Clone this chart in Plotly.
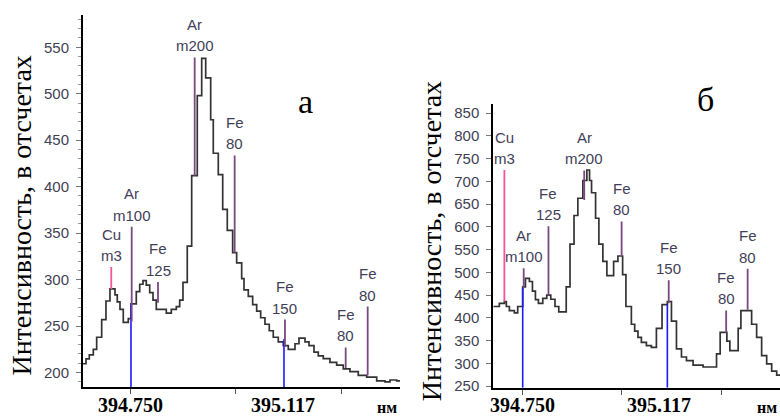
import plotly.graph_objects as go

# ---------------- data: panel "а" ----------------
left_wl = [394.6349, 394.6421, 394.6500, 394.6596, 394.6677, 394.6797, 394.6900, 394.6996,
           394.7116, 394.7171, 394.7236, 394.7315, 394.7435, 394.7500, 394.7627, 394.7709,
           394.7788, 394.7867, 394.7949, 394.8028, 394.8107, 394.8347, 394.8467, 394.8587,
           394.8668, 394.8747, 394.8850, 394.8956, 394.9090, 394.9196, 394.9292, 394.9412,
           394.9474, 394.9594, 394.9700, 394.9810, 394.9939, 395.0035, 395.0155, 395.0211,
           395.0314, 395.0419, 395.0515, 395.0611, 395.0714, 395.0817, 395.0913, 395.1033,
           395.1153, 395.1273, 395.1434, 395.1530, 395.1674, 395.1770, 395.1890, 395.1993,
           395.2113, 395.2273, 395.2434, 395.2592, 395.2753, 395.2952, 395.3154, 395.3394,
           395.3593, 395.3713, 395.3873, 395.3953]
left_counts = [209.5, 214.8, 219, 225, 238, 257, 277, 290,
               283.5, 276, 268, 254, 258, 274, 287, 295,
               299, 294, 286, 278, 268, 264, 268, 271,
               278, 297, 336, 412, 498, 538, 517, 472,
               436, 413, 375.5, 353, 329, 318, 301, 289,
               282, 273, 266, 259, 252, 245, 238, 233,
               229, 225, 231, 237, 233, 229, 222, 218,
               215, 211, 208, 204, 201, 197, 195, 191,
               190, 192, 191, 191]

# ---------------- data: panel "б" ----------------
right_wl = [394.6754, 394.6907, 394.7035, 394.7085, 394.7162, 394.7289, 394.7373, 394.7500,
            394.7569, 394.7670, 394.7747, 394.7823, 394.7899, 394.8009, 394.8110, 394.8212,
            394.8319, 394.8415, 394.8604, 394.8700, 394.8802, 394.8899, 394.9026, 394.9128,
            394.9196, 394.9247, 394.9349, 394.9433, 394.9534, 394.9636, 394.9807, 394.9916,
            395.0035, 395.0119, 395.0257, 395.0341, 395.0424, 395.0511, 395.0638, 395.0765,
            395.0892, 395.1035, 395.1170, 395.1274, 395.1401, 395.1528, 395.1655, 395.1823,
            395.2077, 395.2418, 395.2510, 395.2680, 395.2756, 395.2967, 395.3036, 395.3308,
            395.3435, 395.3562, 395.3690, 395.3817, 395.3944, 395.4028]
right_counts = [425, 432, 436, 425, 416, 411, 425, 468,
                487, 480, 459, 440, 432, 443, 450, 441,
                425, 413, 468, 562, 625, 663, 702, 725,
                702, 675, 619, 562, 524, 493, 524, 536,
                495, 425, 386, 371, 357, 346, 339, 335,
                377, 429, 436, 393, 332, 314, 306, 296,
                292, 321, 368, 349, 328, 377, 416, 386,
                357, 317, 299, 283, 274, 274]

# ---------------- line identifications ----------------
mk_elem = ["Cu", "Ar", "Fe", "Ar", "Fe", "Fe", "Fe", "Fe"]
mk_line2 = ["m3", "m100", "125", "m200", "80", "150", "80", "80"]
mk_kind = ["cu", "el", "el", "el", "el", "el", "el", "el"]

left_mk_wl = [394.7027, 394.7517, 394.8148, 394.9028, 394.9987, 395.1194, 395.2650, 395.3178]
left_mk_lo = [290, 255, 275, 412, 329, 227.5, 205, 197]
left_mk_hi = [313.5, 357, 297.5, 539, 433.6, 257, 227, 271]

right_mk_wl = [394.7035, 394.7525, 394.8154, 394.9061, 395.0010, 395.1205, 395.2662, 395.3207]
right_mk_lo = [436, 465, 449, 659, 537, 432, 367.6, 418]
right_mk_hi = [725, 509, 601.6, 724, 612, 482.7, 416.4, 508]

ref_wl = [394.750, 395.117]
ref_labels = ["394.750", "395.117"]
left_ref_top = [274, 236]
right_ref_top = [466, 429]

x_minor_ticks = [394.75, 395.0, 395.255]
unit_label = "нм"
y_title = "Интенсивность, в отсчетах"
panel_names = ["а", "б"]

# ---------------- styles ----------------
CURVE = "#333333"
PURPLE = "#7a4880"
PINK = "#f2559e"
BLUE = "#1a1aff"
LABEL = "#433e58"
TICKTXT = "#3f3f55"
SANS = "Arial, Liberation Sans, sans-serif"
SERIF = "Times New Roman, Liberation Serif, serif"

fig = go.Figure()

panels = [
    dict(xa="x", ya="y", wl=left_wl, cnt=left_counts, mwl=left_mk_wl, mlo=left_mk_lo,
         mhi=left_mk_hi, rtop=left_ref_top, ybot=184),
    dict(xa="x2", ya="y2", wl=right_wl, cnt=right_counts, mwl=right_mk_wl, mlo=right_mk_lo,
         mhi=right_mk_hi, rtop=right_ref_top, ybot=246.5),
]

annotations = []
for p in panels:
    # spectrum (step line)
    fig.add_trace(go.Scatter(x=p["wl"], y=p["cnt"], mode="lines", line_shape="hv",
                             line=dict(color=CURVE, width=1.7), xaxis=p["xa"], yaxis=p["ya"],
                             showlegend=False, hoverinfo="skip"))
    # blue reference lines
    for w, top in zip(ref_wl, p["rtop"]):
        fig.add_trace(go.Scatter(x=[w, w], y=[p["ybot"], top], mode="lines",
                                 line=dict(color=BLUE, width=1.6), xaxis=p["xa"], yaxis=p["ya"],
                                 showlegend=False, hoverinfo="skip"))
    # identification markers
    for w, lo, hi, kind, e, l2 in zip(p["mwl"], p["mlo"], p["mhi"], mk_kind, mk_elem, mk_line2):
        col = PINK if kind == "cu" else PURPLE
        fig.add_trace(go.Scatter(x=[w, w], y=[lo, hi], mode="lines",
                                 line=dict(color=col, width=1.8), xaxis=p["xa"], yaxis=p["ya"],
                                 showlegend=False, hoverinfo="skip"))
        for txt, sh in ((l2, 11.5), (e, 33)):
            annotations.append(dict(x=w, y=hi, xref=p["xa"], yref=p["ya"], text=txt,
                                    showarrow=False, yshift=sh, yanchor="middle",
                                    xanchor="center", font=dict(family=SANS, size=15, color=LABEL)))
    # x labels at reference lines
    for w, lab, xs in zip(ref_wl, ref_labels, (0, -1 if p["xa"] == "x" else -8)):
        annotations.append(dict(x=w, y=0.019, xref=p["xa"], yref="paper", text="<b>" + lab + "</b>",
                                showarrow=False, xanchor="center", yanchor="middle", xshift=xs,
                                font=dict(family=SERIF, size=20, color="black")))

# unit labels
annotations.append(dict(x=0.4958, y=0.014, xref="paper", yref="paper", text="<b>" + unit_label + "</b>",
                        showarrow=False, xanchor="center", yanchor="middle",
                        font=dict(family=SERIF, size=16, color="black")))
annotations.append(dict(x=0.999, y=0.014, xref="paper", yref="paper", text="<b>" + unit_label + "</b>",
                        showarrow=False, xanchor="right", yanchor="middle",
                        font=dict(family=SERIF, size=16, color="black")))
# y titles
annotations.append(dict(x=0.0282, y=0.478, xref="paper", yref="paper", text=y_title, textangle=-90,
                        showarrow=False, xanchor="center", yanchor="middle",
                        font=dict(family=SERIF, size=28, color="black")))
annotations.append(dict(x=0.5535, y=0.415, xref="paper", yref="paper", text=y_title, textangle=-90,
                        showarrow=False, xanchor="center", yanchor="middle",
                        font=dict(family=SERIF, size=28, color="black")))
# panel letters
annotations.append(dict(x=305 / 780, y=1 - 103 / 420, xref="paper", yref="paper", text=panel_names[0],
                        showarrow=False, xanchor="center", yanchor="middle",
                        font=dict(family=SERIF, size=34, color="black")))
annotations.append(dict(x=705 / 780, y=1 - 101 / 420, xref="paper", yref="paper", text=panel_names[1],
                        showarrow=False, xanchor="center", yanchor="middle",
                        font=dict(family=SERIF, size=34, color="black")))

xcommon = dict(showline=True, linecolor="black", linewidth=2, ticks="outside", ticklen=5,
               tickcolor="#555", tickvals=x_minor_ticks, showticklabels=False,
               showgrid=False, zeroline=False)
ycommon = dict(showline=True, linecolor="black", linewidth=2, ticks="outside", ticklen=5,
               tickcolor="#777", dtick=50, tick0=0, showgrid=False, zeroline=False,
               tickfont=dict(family=SANS, size=15, color=TICKTXT), ticklabelstandoff=4)

fig.update_layout(
    width=780, height=420, margin=dict(l=0, r=0, t=0, b=0),
    paper_bgcolor="white", plot_bgcolor="white",
    xaxis=dict(domain=[83 / 780, 400 / 780], range=[394.6349, 395.3953], anchor="y", **xcommon),
    yaxis=dict(domain=[26 / 420, 405 / 420], range=[184, 585], anchor="x",
               minor=dict(dtick=10, ticks="outside", ticklen=3, tickcolor="#999", showgrid=False),
               **ycommon),
    xaxis2=dict(domain=[493.3 / 780, 1.0], range=[394.6754, 395.4028], anchor="y2", **xcommon),
    yaxis2=dict(domain=[25.7 / 420, 314 / 420], range=[246.5, 869.6], anchor="x2", **ycommon),
    annotations=annotations,
    showlegend=False,
)

fig.write_html("out.html")
